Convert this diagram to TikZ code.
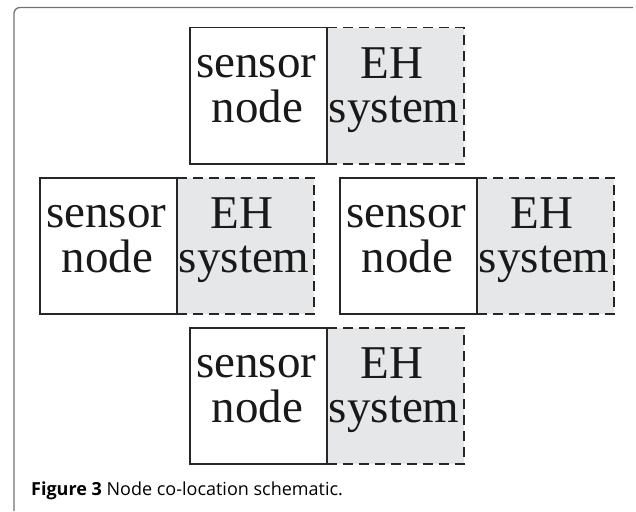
\documentclass[tikz,border=0pt]{standalone}
\usepackage{fontspec}
\setmainfont{Liberation Serif}
\newfontfamily\capfont{Open Sans}
\usetikzlibrary{calc}
\definecolor{ehgray}{RGB}{230,231,232}
\definecolor{framegray}{RGB}{115,115,115}
\tikzset{
  sensorbox/.style={draw=black!85, line width=1.5pt, minimum width=137pt, minimum height=136pt, inner sep=0pt, anchor=north west},
  ehbox/.style={draw=black!85, fill=ehgray, line width=1.5pt, dash pattern=on 10pt off 6pt, minimum width=137pt, minimum height=136pt, inner sep=0pt, anchor=north west},
  lbl/.style={font=\fontsize{47}{47}\selectfont, inner sep=0pt, anchor=base, text=black!90},
}
\newcommand{\cogroup}[3]{%
  \node[ehbox] (#1e) at ({#2+137},#3) {};
  \node[sensorbox] (#1s) at (#2,#3) {};
  \node[lbl] (#1s1) at ($(#1s.north)+(-2,50)$) {sensor};
  \node[lbl] (#1s2) at ($(#1s.north)+(-1,95)$) {node};
  \node[lbl] (#1e1) at ($(#1e.north)+(-3,51)$) {EH};
  \node[lbl] (#1e2) at ($(#1e.north)+(-1,95)$) {system};
}
\begin{document}
\begin{tikzpicture}[x=1pt,y=-1pt]
\useasboundingbox (0,0) rectangle (636,511);
\draw[framegray, line width=1.3pt, rounded corners=6pt] (14,511) -- (14,7.5) -- (633,7.5);
\cogroup{t}{189}{27}
\cogroup{l}{39}{177}
\cogroup{r}{339}{177}
\cogroup{b}{189}{327}
\node[anchor=base west, inner sep=0pt, font=\capfont\fontsize{18}{18}\selectfont] (cap) at (31,495) {\textbf{Figure 3} Node co-location schematic.};
\end{tikzpicture}
\end{document}
